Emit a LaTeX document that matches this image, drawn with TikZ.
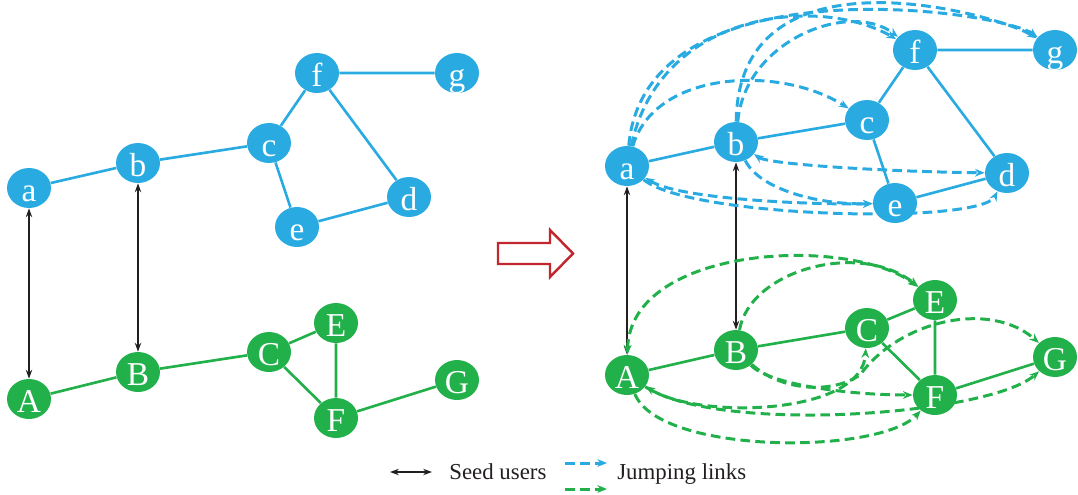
\documentclass[tikz,border=0pt]{standalone}
\usepackage{fontspec}
\setmainfont{Liberation Serif}
\usepackage{xcolor}
\usepackage{tikz}
\usetikzlibrary{arrows.meta, shapes.geometric}
\definecolor{userblue}{HTML}{29ABE2}
\definecolor{usergreen}{HTML}{22B04B}
\definecolor{seedblack}{HTML}{231F20}
\definecolor{arrowred}{HTML}{C1272D}
\pgfdeclarelayer{edges}
\pgfsetlayers{edges,main}

\begin{document}
\begin{tikzpicture}[x=0.02cm, y=-0.02cm, >={Stealth[length=5.5pt, width=4.4pt]},
        user/.style={ellipse, fill=#1, text=white, minimum width=0.88cm, minimum height=0.8cm,
            inner sep=0pt, text height=15pt, text depth=0pt, font=\fontsize{19}{19}\selectfont},
        link/.style={draw=#1, line width=1.5pt},
        jump/.style={draw=#1, line width=1.7pt, dash pattern=on 5.5pt off 3pt, ->},
        jumpboth/.style={jump=#1, <->},
        seed/.style={draw=seedblack, line width=1.2pt, {Stealth[length=5pt, width=3.6pt]}-{Stealth[length=5pt, width=3.6pt]}},
        legend/.style={font=\fontsize{13}{13}\selectfont, text=seedblack, anchor=base west, inner sep=0pt}]
        \useasboundingbox (0,0) rectangle (1078,494);

        % before
        \node[user=userblue] (la) at (29,188) {a};
        \node[user=userblue] (lb) at (138,163) {b};
        \node[user=userblue] (lc) at (269,143) {c};
        \node[user=userblue] (ld) at (409,197) {d};
        \node[user=userblue] (le) at (297,227) {e};
        \node[user=userblue] (lf) at (317,73) {f};
        \node[user=userblue] (lg) at (457,73) {g};
        \node[user=usergreen] (lA) at (29,399) {A};
        \node[user=usergreen] (lB) at (138,372) {B};
        \node[user=usergreen] (lC) at (269,352) {C};
        \node[user=usergreen] (lE) at (336,323) {E};
        \node[user=usergreen] (lF) at (336,418) {F};
        \node[user=usergreen] (lG) at (457,380) {G};

        % after
        \node[user=userblue] (ra) at (627,166) {a};
        \node[user=userblue] (rb) at (736,142) {b};
        \node[user=userblue] (rc) at (867,120) {c};
        \node[user=userblue] (rd) at (1007,173) {d};
        \node[user=userblue] (re) at (895,203) {e};
        \node[user=userblue] (rf) at (915,50) {f};
        \node[user=userblue] (rg) at (1055,50) {g};
        \node[user=usergreen] (rA) at (627,375) {A};
        \node[user=usergreen] (rB) at (736,350) {B};
        \node[user=usergreen] (rC) at (867,328) {C};
        \node[user=usergreen] (rE) at (935,300) {E};
        \node[user=usergreen] (rF) at (935,395) {F};
        \node[user=usergreen] (rG) at (1055,357) {G};

        \begin{pgfonlayer}{edges}
        \draw[link=userblue] (la) -- (lb) (lb) -- (lc) (lc) -- (lf) (lc) -- (le) (lf) -- (lg) (lf) -- (ld) (le) -- (ld);
        \draw[link=usergreen] (lA) -- (lB) (lB) -- (lC) (lC) -- (lE) (lC) -- (lF) (lE) -- (lF) (lF) -- (lG);
        \draw[seed] (la) -- (lA);
        \draw[seed] (lb) -- (lB);

        \draw[link=userblue] (ra) -- (rb) (rb) -- (rc) (rc) -- (rf) (rc) -- (re) (rf) -- (rg) (rf) -- (rd) (re) -- (rd);
        \draw[link=usergreen] (rA) -- (rB) (rB) -- (rC) (rC) -- (rE) (rC) -- (rF) (rE) -- (rF) (rF) -- (rG);
        \draw[seed] (ra) -- (rA);
        \draw[seed] (rb) -- (rB);

        \draw[jump=userblue] (ra) .. controls (645,-40) and (1000,10) .. (rg);
        \draw[jump=userblue] (ra) .. controls (660,10) and (820,-5) .. (rf);
        \draw[jump=userblue] (ra) .. controls (655,70) and (780,65) .. (rc);
        \draw[jump=userblue] (rb) .. controls (738,-60) and (1000,15) .. (rg);
        \draw[jump=userblue] (rb) .. controls (745,40) and (850,0) .. (rf);
        \draw[jumpboth=userblue] (rb) .. controls (770,165) and (900,172) .. (rd);
        \draw[jump=userblue] (rb) .. controls (760,190) and (820,205) .. (re);
        \draw[jumpboth=userblue] (ra) .. controls (680,200) and (820,205) .. (re);
        \draw[jump=userblue] (ra) .. controls (690,218) and (980,225) .. (rd);

        \draw[jumpboth=usergreen] (rA) .. controls (630,245) and (850,235) .. (rE);
        \draw[jump=usergreen] (rB) .. controls (750,270) and (860,240) .. (rE);
        \draw[jump=usergreen] (rB) .. controls (770,385) and (850,395) .. (rF);
        \draw[jump=usergreen] (rB) .. controls (780,390) and (830,395) .. (860,375) .. controls (900,320) and (990,300) .. (rG);
        \draw[jumpboth=usergreen] (rA) .. controls (700,420) and (862,415) .. (rC);
        \draw[jump=usergreen] (rA) .. controls (660,455) and (880,455) .. (rF);
        \draw[jump=usergreen] (rA) .. controls (720,435) and (990,415) .. (rG);
        \end{pgfonlayer}

        % red arrow
        \draw[arrowred, line width=1.4pt] (498,243) -- (550,243) -- (550,230) -- (573,253.5) -- (550,277) -- (550,264) -- (498,264) -- cycle;

        % legend
        \coordinate (seedL) at (390,472);
        \coordinate (seedR) at (432,472);
        \coordinate (jumpbL) at (565,463);
        \coordinate (jumpbR) at (607,463);
        \coordinate (jumpgL) at (565,489);
        \coordinate (jumpgR) at (607,489);
        \draw[seed] (seedL) -- (seedR);
        \draw[jump=userblue] (jumpbL) -- (jumpbR);
        \draw[jump=usergreen] (jumpgL) -- (jumpgR);
        \node[legend] (seedtxt) at (449,479) {Seed users};
        \node[legend] (jumptxt) at (617,479) {Jumping links};
    \end{tikzpicture}
\end{document}
